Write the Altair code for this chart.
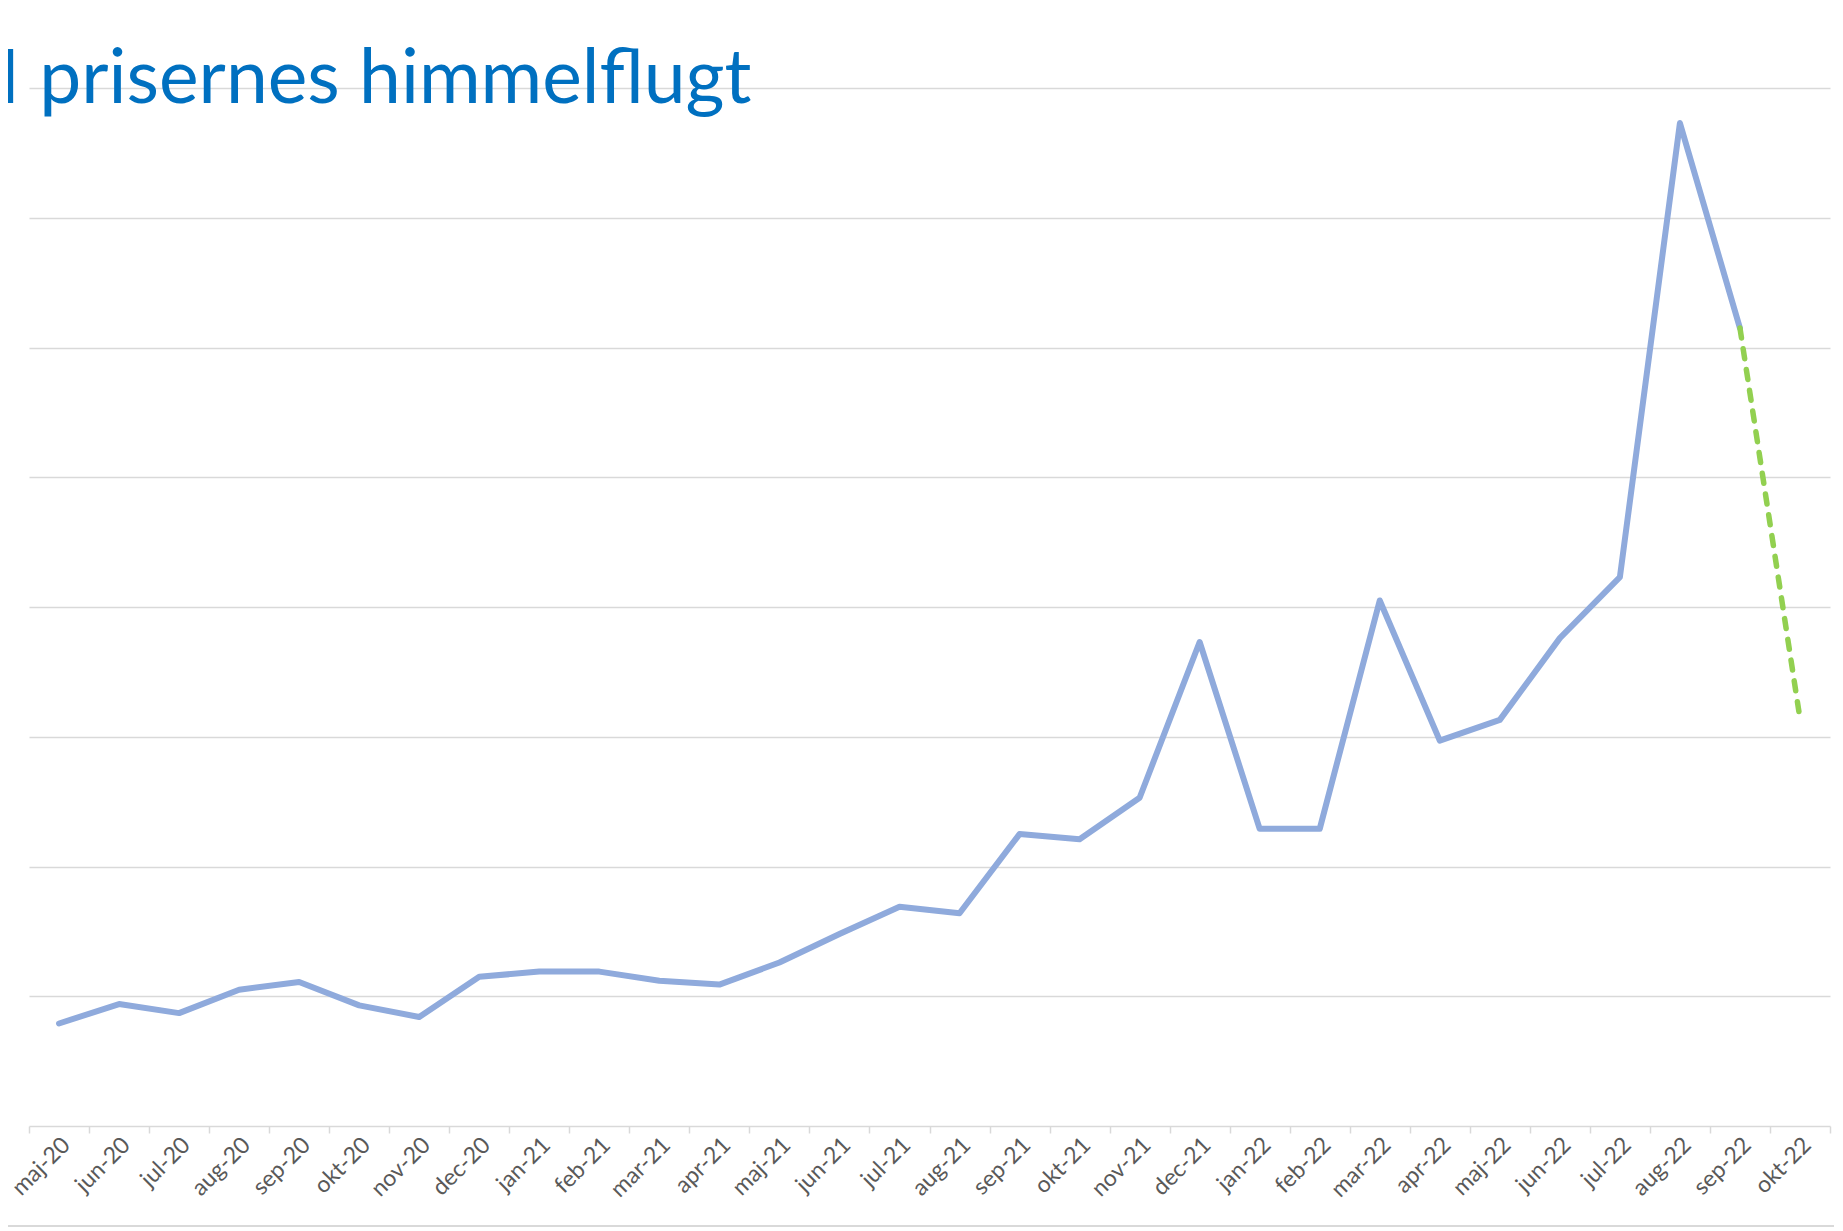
import altair as alt
import pandas as pd

months = ["maj-20", "jun-20", "jul-20", "aug-20", "sep-20", "okt-20", "nov-20", "dec-20",
          "jan-21", "feb-21", "mar-21", "apr-21", "maj-21", "jun-21", "jul-21", "aug-21",
          "sep-21", "okt-21", "nov-21", "dec-21", "jan-22", "feb-22", "mar-22", "apr-22",
          "maj-22", "jun-22", "jul-22", "aug-22", "sep-22", "okt-22"]
values = [0.79, 0.94, 0.87, 1.05, 1.11, 0.93, 0.84, 1.15,
          1.19, 1.19, 1.12, 1.09, 1.26, 1.48, 1.69, 1.64,
          2.25, 2.21, 2.53, 3.73, 2.29, 2.29, 4.05, 2.97,
          3.13, 3.76, 4.23, 7.73, 6.15, 3.14]

title_text = "I prisernes himmelflugt"

actual = pd.DataFrame({"month": months[:29], "value": values[:29]})
forecast = pd.DataFrame({"month": months[28:30], "value": values[28:30]})

W, H = 1801, 1038

x_enc = alt.X("month:N", sort=months,
              scale=alt.Scale(type="band", domain=months, paddingInner=0, paddingOuter=0),
              axis=alt.Axis(title=None, labelAngle=-45, labelAlign="right", labelBaseline="middle",
                            labelFont="Lato", labelFontSize=23, labelColor="#595959",
                            labelPadding=8, labelOffset=7,
                            tickBand="extent", tickColor="#d9d9d9", tickWidth=1.5, tickSize=7,
                            domainColor="#d9d9d9", domainWidth=1.5, grid=False,
                            labelOverlap=False))
y_enc = alt.Y("value:Q", scale=alt.Scale(domain=[0, 8], nice=False, zero=True),
              axis=alt.Axis(title=None, labels=False, ticks=False, domain=False,
                            values=[1, 2, 3, 4, 5, 6, 7, 8],
                            gridColor="#d9d9d9", gridWidth=1.4))

blue = alt.Chart(actual).mark_line(color="#8FAADC", strokeWidth=6, strokeJoin="round",
                                   strokeCap="round").encode(x=x_enc, y=y_enc)
green = alt.Chart(forecast).mark_line(color="#92D050", strokeWidth=5.5, strokeDash=[10, 11],
                                      strokeCap="round").encode(x=x_enc, y=y_enc)

border = alt.Chart(pd.DataFrame({"k": [0]})).mark_rule(color="#d9d9d9", strokeWidth=2).encode(
    x=alt.value(-21), x2=alt.value(W + 4), y=alt.value(H + 100), y2=alt.value(H + 100))

chart = alt.layer(border, blue, green).properties(
    width=W, height=H,
    background="white",
    title=alt.TitleParams(title_text, anchor="start", frame="group", orient="top",
                          font="Lato", fontSize=75, fontWeight="normal", color="#0070C0",
                          baseline="alphabetic", offset=0, dx=-30, dy=90),
    autosize=alt.AutoSizeParams(type="none"),
    padding={"left": 21, "top": 80, "right": 4, "bottom": 104},
).configure_view(strokeWidth=0, stroke="transparent"
).configure_axisY(domain=False, ticks=False
).configure_axisX(grid=False)

chart.save("out.html", embed_options={"renderer": "svg", "actions": False})
